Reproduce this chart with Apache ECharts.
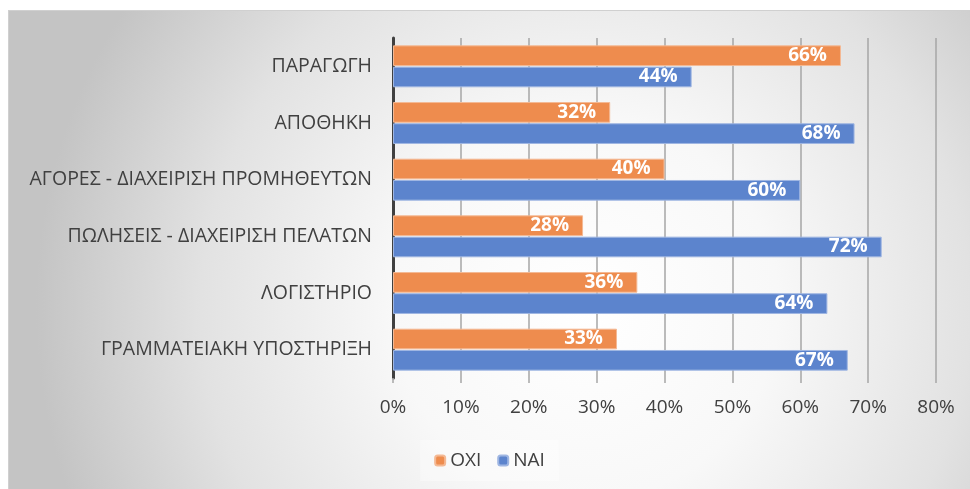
<!DOCTYPE html>
<html>
<head>
<meta charset="utf-8">
<script src="https://cdn.jsdelivr.net/npm/echarts@6/dist/echarts.min.js"></script>
<style>
  html, body { margin: 0; padding: 0; background: #fff; }
  #chart {
    position: absolute; left: 8px; top: 10px;
    width: 961px; height: 478px;
    border: 1px solid #d0d0d0;
  }
</style>
</head>
<body>
<div id="chart"></div>
<script>
// categories top to bottom
const categories = [
  'ΠΑΡΑΓΩΓΗ',
  'ΑΠΟΘΗΚΗ',
  'ΑΓΟΡΕΣ - ΔΙΑΧΕΙΡΙΣΗ ΠΡΟΜΗΘΕΥΤΩΝ',
  'ΠΩΛΗΣΕΙΣ - ΔΙΑΧΕΙΡΙΣΗ ΠΕΛΑΤΩΝ',
  'ΛΟΓΙΣΤΗΡΙΟ',
  'ΓΡΑΜΜΑΤΕΙΑΚΗ ΥΠΟΣΤΗΡΙΞΗ'
];
const oxiValues = [66, 32, 40, 28, 36, 33];
const naiValues = [44, 68, 60, 72, 64, 67];

const font = '"Open Sans", sans-serif';
const chart = echarts.init(document.getElementById('chart'));

const barLabel = {
  show: true,
  position: 'insideRight',
  distance: 14,
  color: '#fff',
  fontFamily: font,
  fontWeight: 'bold',
  fontSize: 19,
  formatter: p => p.value + '%'
};

chart.setOption({
  // soft grey-to-white radial fill like the office chart area
  backgroundColor: {
    type: 'radial', x: 0.6, y: 0.62, r: 1.15,
    colorStops: [
      { offset: 0, color: '#ffffff' },
      { offset: 0.35, color: '#f8f8f8' },
      { offset: 0.7, color: '#e2e2e2' },
      { offset: 1, color: '#c4c4c4' }
    ]
  },
  textStyle: { fontFamily: font },
  grid: { left: 384, right: 34, top: 27, bottom: 111 },
  legend: {
    data: ['OXI', 'NAI'],
    bottom: 8,
    left: 'center',
    itemWidth: 10,
    itemHeight: 10,
    itemGap: 16,
    padding: [11, 14],
    backgroundColor: 'rgba(255,255,255,0.35)',
    textStyle: { fontSize: 19, color: '#404040', fontFamily: font }
  },
  xAxis: {
    type: 'value',
    min: 0,
    max: 80,
    interval: 10,
    axisLine: { show: false },
    axisTick: { show: true, length: 5, lineStyle: { color: '#a6a6a6', width: 1.5 } },
    splitLine: { lineStyle: { color: '#a6a6a6', width: 1.5 } },
    axisLabel: {
      margin: 20,
      fontSize: 19,
      color: '#404040',
      formatter: v => v + '%'
    }
  },
  yAxis: {
    type: 'category',
    inverse: true,
    data: categories,
    axisLine: { lineStyle: { color: '#404040', width: 3 } },
    axisTick: { show: false },
    axisLabel: { margin: 21, fontSize: 19.5, color: '#404040' }
  },
  series: [
    {
      name: 'OXI',
      type: 'bar',
      data: oxiValues,
      barGap: '3%',
      barCategoryGap: '26%',
      itemStyle: { color: '#EE8C4E', borderColor: '#f4b994', borderWidth: 1 },
      label: barLabel
    },
    {
      name: 'NAI',
      type: 'bar',
      data: naiValues,
      itemStyle: { color: '#5C84CD', borderColor: '#9fb6e2', borderWidth: 1 },
      label: barLabel
    }
  ]
});
</script>
</body>
</html>
